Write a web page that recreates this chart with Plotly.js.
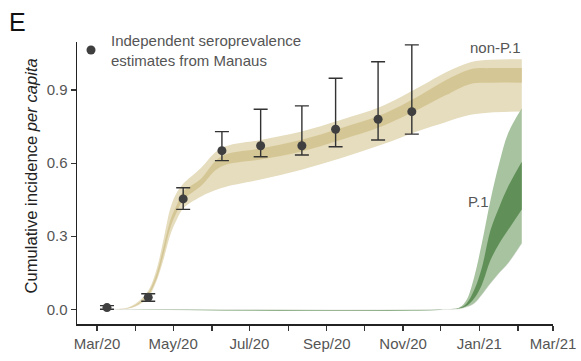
<!DOCTYPE html>
<html>
<head>
<meta charset="utf-8">
<script src="https://cdn.plot.ly/plotly-3.0.1.min.js"></script>
<style>html,body{margin:0;padding:0;background:#fff;}#chart{width:581px;height:361px;}</style>
</head>
<body>
<div id="chart"></div>
<script>
// Non-P.1 cumulative incidence bands
var bandDates = ['2020-03-10','2020-03-18','2020-03-25','2020-04-01','2020-04-07','2020-04-12','2020-04-18','2020-04-23','2020-04-29','2020-05-04','2020-05-09','2020-05-23','2020-06-08','2020-07-10','2020-08-11','2020-09-12','2020-10-14','2020-11-15','2020-12-05','2020-12-25','2021-01-10','2021-02-04'];
var nonP1LightLo = [0,0,0.002,0.012,0.030,0.055,0.12,0.20,0.31,0.37,0.414,0.462,0.497,0.533,0.572,0.620,0.674,0.735,0.768,0.798,0.808,0.812];
var nonP1DarkLo  = [0,0,0.003,0.015,0.036,0.065,0.13,0.22,0.34,0.40,0.449,0.505,0.585,0.615,0.647,0.695,0.749,0.825,0.878,0.925,0.930,0.930];
var nonP1DarkHi  = [0,0,0.004,0.018,0.042,0.075,0.15,0.25,0.37,0.43,0.483,0.535,0.626,0.660,0.695,0.743,0.797,0.880,0.940,0.985,0.990,0.990];
var nonP1LightHi = [0,0.001,0.006,0.024,0.050,0.085,0.17,0.28,0.42,0.48,0.515,0.579,0.660,0.695,0.729,0.777,0.831,0.915,0.972,1.014,1.024,1.026];

// P.1 cumulative incidence bands
var p1Dates = ['2020-03-10','2020-12-10','2020-12-17','2020-12-22','2020-12-28','2021-01-03','2021-01-10','2021-01-17','2021-01-24','2021-02-04'];
var p1LightLo = [0,0,0.003,0.010,0.025,0.060,0.107,0.150,0.189,0.271];
var p1DarkLo  = [0,0,0.005,0.015,0.045,0.100,0.202,0.270,0.325,0.410];
var p1DarkHi  = [0,0,0.007,0.025,0.080,0.170,0.325,0.420,0.503,0.606];
var p1LightHi = [0,0.001,0.010,0.040,0.134,0.270,0.449,0.600,0.722,0.825];

// Independent seroprevalence estimates
var seroDates = ['2020-03-09','2020-04-11','2020-05-09','2020-06-09','2020-07-10','2020-08-12','2020-09-08','2020-10-12','2020-11-08'];
var seroMid = [0.007,0.049,0.453,0.651,0.671,0.671,0.739,0.780,0.811];
var seroLo  = [0.000,0.033,0.410,0.610,0.626,0.633,0.667,0.695,0.719];
var seroHi  = [0.015,0.064,0.499,0.729,0.821,0.835,0.948,1.016,1.085];

var tickVals = ['2020-03-01','2020-05-01','2020-07-01','2020-09-01','2020-11-01','2021-01-01','2021-03-01'];
var tickText = ['Mar/20','May/20','Jul/20','Sep/20','Nov/20','Jan/21','Mar/21'];
var minorTickVals = ['2020-04-01','2020-06-01','2020-08-01','2020-10-01','2020-12-01','2021-02-01'];
var yTicks = [0, 0.3, 0.6, 0.9];

var cLightBeige = '#e6ddbe', cDarkBeige = '#d5c795';
var cLightGreen = '#a7c3a0', cDarkGreen = '#609058';

function band(x, lo, hi, color, edge) {
  return [
    {x: x, y: lo, type: 'scatter', mode: 'lines', line: {width: edge || 0, color: edge ? 'rgba(205,208,200,0.45)' : color, shape: 'spline'}, showlegend: false, hoverinfo: 'skip'},
    {x: x, y: hi, type: 'scatter', mode: 'lines', line: {width: 0, color: color, shape: 'spline'}, fill: 'tonexty', fillcolor: color, showlegend: false, hoverinfo: 'skip'}
  ];
}

var traces = [];
traces = traces.concat(band(bandDates, nonP1LightLo, nonP1LightHi, cLightBeige));
traces = traces.concat(band(bandDates, nonP1DarkLo, nonP1DarkHi, cDarkBeige));
traces = traces.concat(band(p1Dates, p1LightLo, p1LightHi, cLightGreen, 1));
traces = traces.concat(band(p1Dates, p1DarkLo, p1DarkHi, cDarkGreen));

traces.push({
  x: seroDates, y: seroMid, type: 'scatter', mode: 'markers',
  name: 'Independent seroprevalence<br>estimates from Manaus',
  marker: {color: '#3f3f3f', size: 9},
  error_y: {type: 'data', symmetric: false,
    array: seroHi.map(function(v, i){ return v - seroMid[i]; }),
    arrayminus: seroLo.map(function(v, i){ return seroMid[i] - v; }),
    color: '#333', thickness: 1.4, width: 7},
  showlegend: true
});

var W = 581, H = 361, L = 77, R = 28, T = 42, B = 37;
var pw = W - L - R, ph = H - T - B;
function px(x){ return (x - L) / pw; }
function py(y){ return (H - B - y) / ph; }

var layout = {
  width: W, height: H,
  margin: {l: L, r: R, t: T, b: B, pad: 0},
  paper_bgcolor: '#fff', plot_bgcolor: '#fff',
  font: {family: 'Liberation Sans, Arial, sans-serif', color: '#555', size: 15},
  showlegend: true,
  legend: {x: px(71), y: py(24), xanchor: 'left', yanchor: 'top', valign: 'middle',
    bgcolor: 'rgba(0,0,0,0)', font: {size: 15, color: '#555'}, itemclick: false, tracegroupgap: 0},
  xaxis: {
    type: 'date', range: ['2020-02-14', '2021-03-01'],
    tickvals: tickVals, ticktext: tickText,
    showgrid: false, zeroline: false,
    showline: true, linecolor: '#222', linewidth: 1.5,
    ticks: 'outside', ticklen: 5, tickwidth: 1.2, tickcolor: '#333',
    minor: {tickvals: minorTickVals, ticks: 'outside', ticklen: 5, tickwidth: 1.2, tickcolor: '#333', showgrid: false},
    tickfont: {size: 15, color: '#555'}
  },
  yaxis: {
    range: [-0.0603, 1.097], tickvals: yTicks, ticktext: yTicks.map(function(v){ return v.toFixed(1); }),
    showgrid: false, zeroline: false,
    showline: true, linecolor: '#222', linewidth: 1.5,
    ticks: 'outside', ticklen: 5, tickwidth: 1.2, tickcolor: '#333',
    tickfont: {size: 15, color: '#555'}
  },
  annotations: [
    {text: 'E', xref: 'paper', yref: 'paper', x: px(7), y: py(6), xanchor: 'left', yanchor: 'top', showarrow: false, font: {size: 25, color: '#111'}},
    {text: 'Cumulative incidence <i>per capita</i>', xref: 'paper', yref: 'paper', x: px(31), y: py(176.5), xanchor: 'center', yanchor: 'middle', textangle: -90, showarrow: false, font: {size: 16.6, color: '#222'}},
    {text: 'non-P.1', xref: 'paper', yref: 'paper', x: px(523), y: py(47.5), xanchor: 'right', yanchor: 'middle', showarrow: false, font: {size: 15, color: '#555'}},
    {text: 'P.1', xref: 'paper', yref: 'paper', x: px(466), y: py(201.5), xanchor: 'left', yanchor: 'middle', showarrow: false, font: {size: 15, color: '#555'}}
  ]
};

Plotly.newPlot('chart', traces, layout, {displayModeBar: false, staticPlot: true});
</script>
</body>
</html>
